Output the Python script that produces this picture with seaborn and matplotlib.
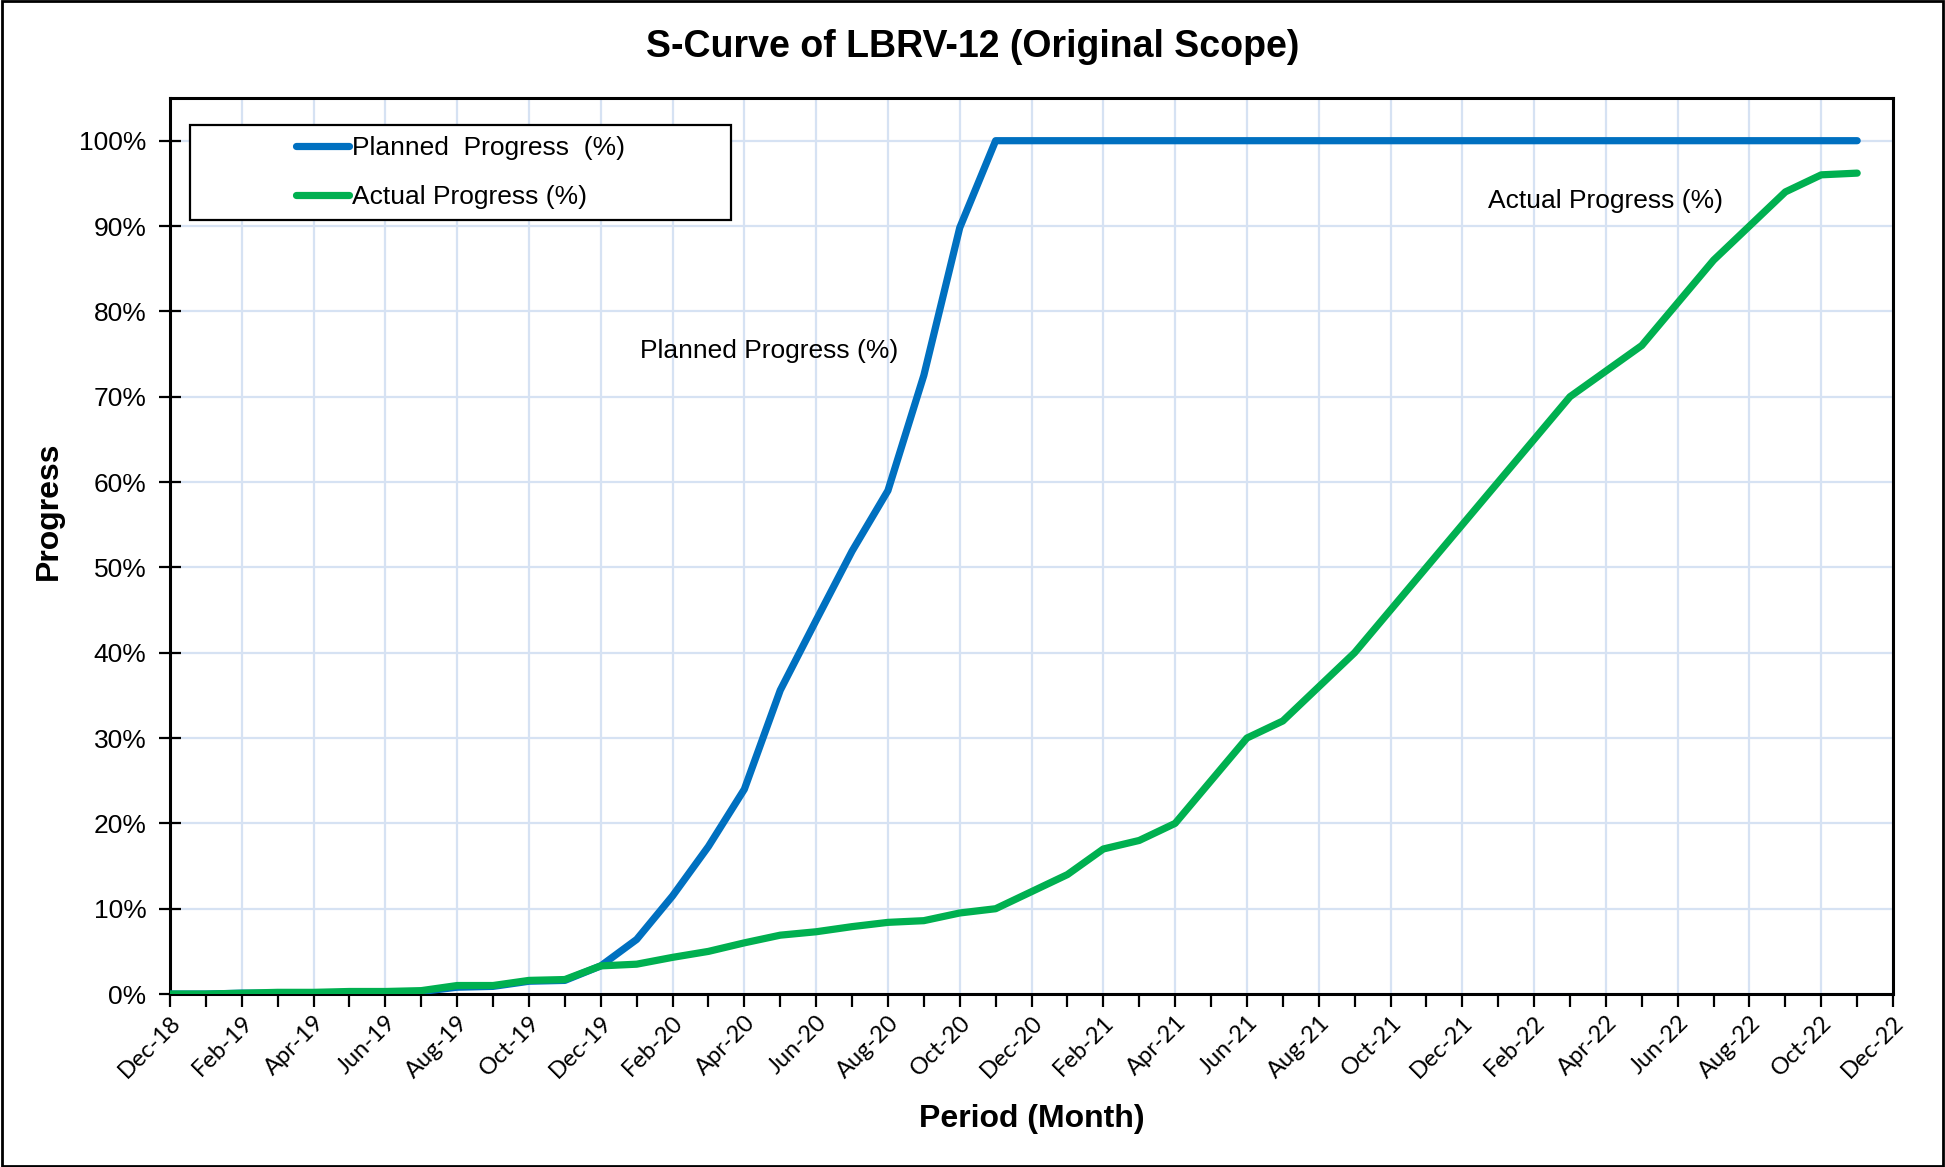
import matplotlib
matplotlib.use("Agg")
import matplotlib.pyplot as plt
from matplotlib.ticker import PercentFormatter, MultipleLocator, FixedLocator
import numpy as np
import pandas as pd
import seaborn as sns

# Monthly reporting periods, Dec-18 .. Nov-22
months = pd.date_range("2018-12-01", "2022-11-01", freq="MS").strftime("%b-%y").tolist()

planned = [0.000, 0.000, 0.001, 0.001, 0.001, 0.002, 0.002, 0.003, 0.008, 0.009, 0.015, 0.016,
           0.033, 0.064, 0.115, 0.173, 0.240, 0.356, 0.438, 0.519, 0.590, 0.725, 0.898, 1.000,
           1.000, 1.000, 1.000, 1.000, 1.000, 1.000, 1.000, 1.000, 1.000, 1.000, 1.000, 1.000,
           1.000, 1.000, 1.000, 1.000, 1.000, 1.000, 1.000, 1.000, 1.000, 1.000, 1.000, 1.000]

actual = [0.000, 0.000, 0.001, 0.002, 0.002, 0.003, 0.003, 0.004, 0.010, 0.010, 0.016, 0.017,
          0.033, 0.035, 0.043, 0.050, 0.060, 0.069, 0.073, 0.079, 0.084, 0.086, 0.095, 0.100,
          0.120, 0.140, 0.170, 0.180, 0.200, 0.250, 0.300, 0.320, 0.360, 0.400, 0.450, 0.500,
          0.550, 0.600, 0.650, 0.700, 0.730, 0.760, 0.810, 0.860, 0.900, 0.940, 0.960, 0.962]

tick_labels = ["Dec-18", "Feb-19", "Apr-19", "Jun-19", "Aug-19", "Oct-19", "Dec-19",
               "Feb-20", "Apr-20", "Jun-20", "Aug-20", "Oct-20", "Dec-20",
               "Feb-21", "Apr-21", "Jun-21", "Aug-21", "Oct-21", "Dec-21",
               "Feb-22", "Apr-22", "Jun-22", "Aug-22", "Oct-22", "Dec-22"]

series_names = ["Planned  Progress  (%)", "Actual Progress (%)"]
series_colors = ["#0070C0", "#00B050"]

df = pd.DataFrame({
    "month": months * 2,
    "idx": list(range(len(months))) * 2,
    "progress": planned + actual,
    "series": [series_names[0]] * len(months) + [series_names[1]] * len(months),
})

sns.set_theme(style="white")
plt.rcParams["font.family"] = ["Liberation Sans", "DejaVu Sans"]
plt.rcParams.update({"text.color": "black", "axes.labelcolor": "black",
                     "xtick.color": "black", "ytick.color": "black"})

fig = plt.figure(figsize=(19.45, 11.67), dpi=100)
ax = fig.add_axes([0.0874, 0.1482, 0.9733 - 0.0874, 0.916 - 0.1482])

sns.lineplot(data=df, x="idx", y="progress", hue="series",
             palette=dict(zip(series_names, series_colors)),
             hue_order=series_names, linewidth=5.2, ax=ax,
             solid_capstyle="round", zorder=3)

ax.set_xlim(0, 48)
ax.set_ylim(0, 1.05)

# grid every 2 months and every 10%
ax.xaxis.set_major_locator(FixedLocator(np.arange(0, 49, 2)))
ax.xaxis.set_minor_locator(MultipleLocator(1))
ax.set_xticklabels(tick_labels, rotation=45, ha="right", rotation_mode="anchor",
                   fontsize=17, family=["Lato", "DejaVu Sans"])
ax.yaxis.set_major_locator(FixedLocator(np.arange(0, 1.01, 0.1)))
ax.yaxis.set_major_formatter(PercentFormatter(1.0, decimals=0))

ax.grid(True, which="major", color="#D6E2F3", linewidth=1.6, zorder=0)
ax.set_axisbelow(True)

for side in ["left", "right", "top", "bottom"]:
    ax.spines[side].set_visible(True)
    ax.spines[side].set_color("black")
    ax.spines[side].set_linewidth(2.2)

ax.tick_params(axis="x", which="both", direction="out", length=9, width=1.6,
               color="black", bottom=True, pad=4)
ax.tick_params(axis="y", which="major", direction="inout", length=16, width=1.6,
               color="black", left=True, pad=9, labelsize=19)

ax.set_xlabel("Period (Month)", fontsize=23, fontweight="bold", labelpad=16)
ax.set_ylabel("Progress", fontsize=23, fontweight="bold")
ax.yaxis.set_label_coords(-0.0614, 0.539)

fig.suptitle("S-Curve of LBRV-12 (Original Scope)", fontsize=27, fontweight="bold",
             x=0.5, y=0.960, va="center", color="black")

# curve labels
ax.text(16.7, 0.754, "Planned Progress (%)", fontsize=19, ha="center", va="center")
ax.text(40.0, 0.929, "Actual Progress (%)", fontsize=19, ha="center", va="center")

# legend inside a fixed box
box_x0, box_x1, box_y0, box_y1 = 0.0116, 0.3256, 0.8638, 0.970
ax.add_patch(plt.Rectangle((box_x0, box_y0), box_x1 - box_x0, box_y1 - box_y0,
                           transform=ax.transAxes, facecolor="white",
                           edgecolor="black", linewidth=1.6, zorder=4))
leg = ax.legend(loc="center", bbox_to_anchor=((box_x0 + box_x1) / 2, (box_y0 + box_y1) / 2),
                frameon=False, fontsize=19, handlelength=2.0, handletextpad=0.1,
                borderpad=0.3, labelspacing=0.95, borderaxespad=0)
leg.set_zorder(5)
leg.set_title(None)
for h in leg.get_lines():
    h.set_linewidth(5.2)
    h.set_solid_capstyle("round")

# outer chart border
fig.patches.append(plt.Rectangle((0.001, 0.001), 0.998, 0.998, transform=fig.transFigure,
                                 fill=False, edgecolor="black", linewidth=2, zorder=10))

fig.savefig("out.png", dpi=100, facecolor="white")
